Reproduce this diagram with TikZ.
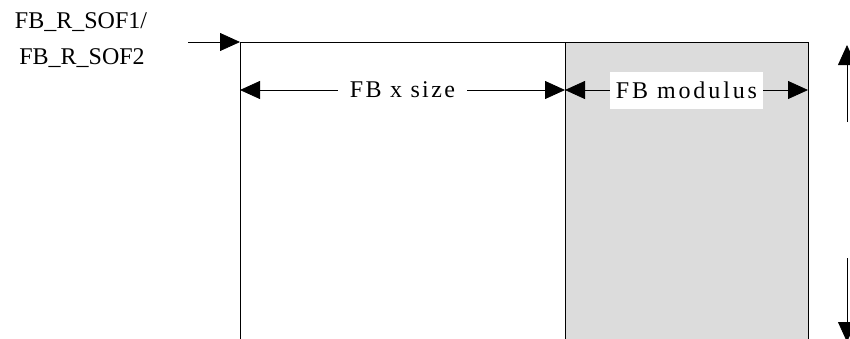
\documentclass[tikz,border=0pt]{standalone}
\usepackage{fontspec}
\setmainfont{Liberation Serif}
\newfontfamily\spacedA{Liberation Serif}[LetterSpace=10]
\newfontfamily\spacedB{Liberation Serif}[LetterSpace=12]
\usetikzlibrary{arrows.meta}
\definecolor{fbgray}{HTML}{DCDCDC}
\begin{document}
\begin{tikzpicture}[x=1pt,y=-1pt,
  lbl/.style={font=\fontsize{24}{28}\selectfont, inner sep=0pt},
  tri/.tip={Triangle[length=20pt,width=18pt]},
  dim/.style={line width=0.8pt, tri-tri},
  arr/.style={line width=0.8pt, -tri},
  frame/.style={line width=0.8pt}]
\useasboundingbox (0,0) rectangle (850,338);
\clip (0,0) rectangle (850,338);
% frame
\coordinate (bl) at (240,345);
\coordinate (tl) at (240,42);
\coordinate (tm) at (565,42);
\coordinate (bm) at (565,345);
\coordinate (tr) at (808,42);
\coordinate (br) at (808,345);
\fill[fbgray] (bm) rectangle (tr);
\draw[frame] (bl) -- (tl) -- (tr) -- (br);
\draw[frame] (tm) -- (bm);
% start label
\node[lbl] (sof1) at (81,22) {FB\_R\_SOF1/};
\node[lbl] (sof2) at (82,58) {FB\_R\_SOF2};
\coordinate (inS) at (188,42);
\draw[arr] (inS) -- (tl);
% FB x size
\coordinate (xa) at (240,90);
\coordinate (xb) at (565,90);
\draw[dim] (xa) -- (xb) node[midway, lbl, fill=white, inner xsep=12pt, minimum height=30pt] (xs) {\spacedA FB x size};
% FB modulus
\coordinate (ma) at (565,90);
\coordinate (mb) at (808,90);
\draw[dim] (ma) -- (mb) node[midway, lbl, fill=white, inner xsep=6pt, minimum height=37pt] (ms) {\spacedB FB modulus};
% vertical arrows
\coordinate (ua) at (847,122);
\coordinate (ub) at (847,45);
\draw[arr] (ua) -- (ub);
\coordinate (da) at (847,258);
\coordinate (db) at (847,342);
\draw[arr] (da) -- (db);
\end{tikzpicture}
\end{document}
